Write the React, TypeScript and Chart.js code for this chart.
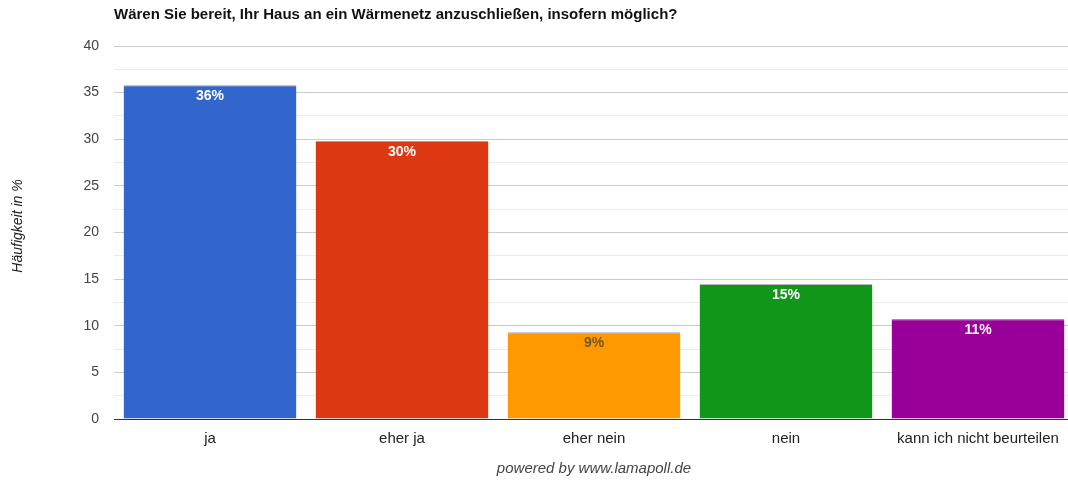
import React, { useEffect, useRef } from "react";
import { Chart, registerables } from "chart.js";

Chart.register(...registerables);

const TITLE = "Wären Sie bereit, Ihr Haus an ein Wärmenetz anzuschließen, insofern möglich?";
const Y_TITLE = "Häufigkeit in %";
const FOOTER = "powered by www.lamapoll.de";
const categories = ["ja", "eher ja", "eher nein", "nein", "kann ich nicht beurteilen"];
const values = [35.8, 29.8, 9.3, 14.5, 10.7];
const valueLabels = ["36%", "30%", "9%", "15%", "11%"];
const Y_MIN = 0;
const Y_MAX = 40;
const Y_STEP = 2.5;
const Y_LABEL_STEP = 5;

const barColors = ["#3366cc", "#dc3912", "#ff9900", "#109618", "#990099"];
const barTopColors = ["#e07a5a", "#a3a3a3", "#aaa3b5", "#e6b8e6", "#990099"];
const labelColors = ["#ffffff", "#ffffff", "rgba(70,60,50,0.75)", "#ffffff", "#ffffff"];

const FONT = "Arial, 'Liberation Sans', sans-serif";

export default function App() {
  const canvasRef = useRef<HTMLCanvasElement | null>(null);

  useEffect(() => {
    document.body.style.margin = "0";
    const canvas = canvasRef.current;
    if (!canvas) return;

    const textPlugin = {
      id: "customTexts",
      afterDraw(chart: any) {
        const ctx = chart.ctx;
        ctx.save();
        ctx.font = `bold 15px ${FONT}`;
        ctx.fillStyle = "#111";
        ctx.textAlign = "left";
        ctx.textBaseline = "middle";
        ctx.fillText(TITLE, chart.chartArea.left, 15);
        ctx.restore();

        ctx.save();
        ctx.translate(18, 226);
        ctx.rotate(-Math.PI / 2);
        ctx.font = `italic 14px ${FONT}`;
        ctx.fillStyle = "#222";
        ctx.textAlign = "center";
        ctx.textBaseline = "middle";
        ctx.fillText(Y_TITLE, 0, 0);
        ctx.restore();
      },
    };

    const valueLabelPlugin = {
      id: "valueLabels",
      afterDatasetsDraw(chart: any) {
        const ctx = chart.ctx;
        const meta = chart.getDatasetMeta(0);
        ctx.save();
        ctx.font = `bold 14px ${FONT}`;
        ctx.textAlign = "center";
        ctx.textBaseline = "middle";
        meta.data.forEach((el: any, i: number) => {
          ctx.fillStyle = labelColors[i];
          ctx.fillText(valueLabels[i], el.x, el.y + 11);
        });
        ctx.restore();
      },
    };

    const chart = new Chart(canvas, {
      type: "bar",
      data: {
        labels: categories,
        datasets: [
          {
            data: values,
            backgroundColor: barColors,
            borderColor: barTopColors,
            borderWidth: { top: 1, left: 0, right: 0, bottom: 0 },
            borderSkipped: "start",
            barPercentage: 0.9,
            categoryPercentage: 1,
          },
        ],
      },
      options: {
        responsive: false,
        animation: false,
        layout: { padding: { top: 46, right: 0, left: 0, bottom: 0 } },
        plugins: {
          legend: { display: false },
          title: { display: false },
          tooltip: { enabled: false },
        },
        scales: {
          x: {
            grid: { display: false },
            border: { display: true, color: "#333", width: 1 },
            ticks: {
              color: "#222",
              font: { family: FONT, size: 15 },
              padding: 3,
              maxRotation: 0,
              autoSkip: false,
            },
            title: {
              display: true,
              text: FOOTER,
              color: "#444",
              font: { family: FONT, size: 15, style: "italic" },
              padding: { top: 0, bottom: 5 },
            },
            afterFit: (s: any) => {
              s.height = 64;
            },
          },
          y: {
            min: Y_MIN,
            max: Y_MAX,
            border: { display: false },
            grid: {
              drawTicks: false,
              color: (c: any) => {
                const v = c.tick ? c.tick.value : 0;
                if (v === 0) return "#333";
                return v % Y_LABEL_STEP === 0 ? "#cccccc" : "#ebebeb";
              },
              lineWidth: 1,
            },
            ticks: {
              stepSize: Y_STEP,
              autoSkip: false,
              color: "#444",
              font: { family: FONT, size: 14 },
              padding: 15,
              callback: (v: any) => (Number(v) % Y_LABEL_STEP === 0 ? String(v) : ""),
            },
            afterFit: (s: any) => {
              s.width = 114;
            },
          },
        },
      },
      plugins: [textPlugin, valueLabelPlugin],
    });

    return () => chart.destroy();
  }, []);

  return (
    <div style={{ position: "absolute", left: 0, top: 0, width: 1068, height: 483, overflow: "hidden" }}>
      <canvas ref={canvasRef} width={1074} height={483} style={{ width: 1074, height: 483, display: "block" }} />
    </div>
  );
}
